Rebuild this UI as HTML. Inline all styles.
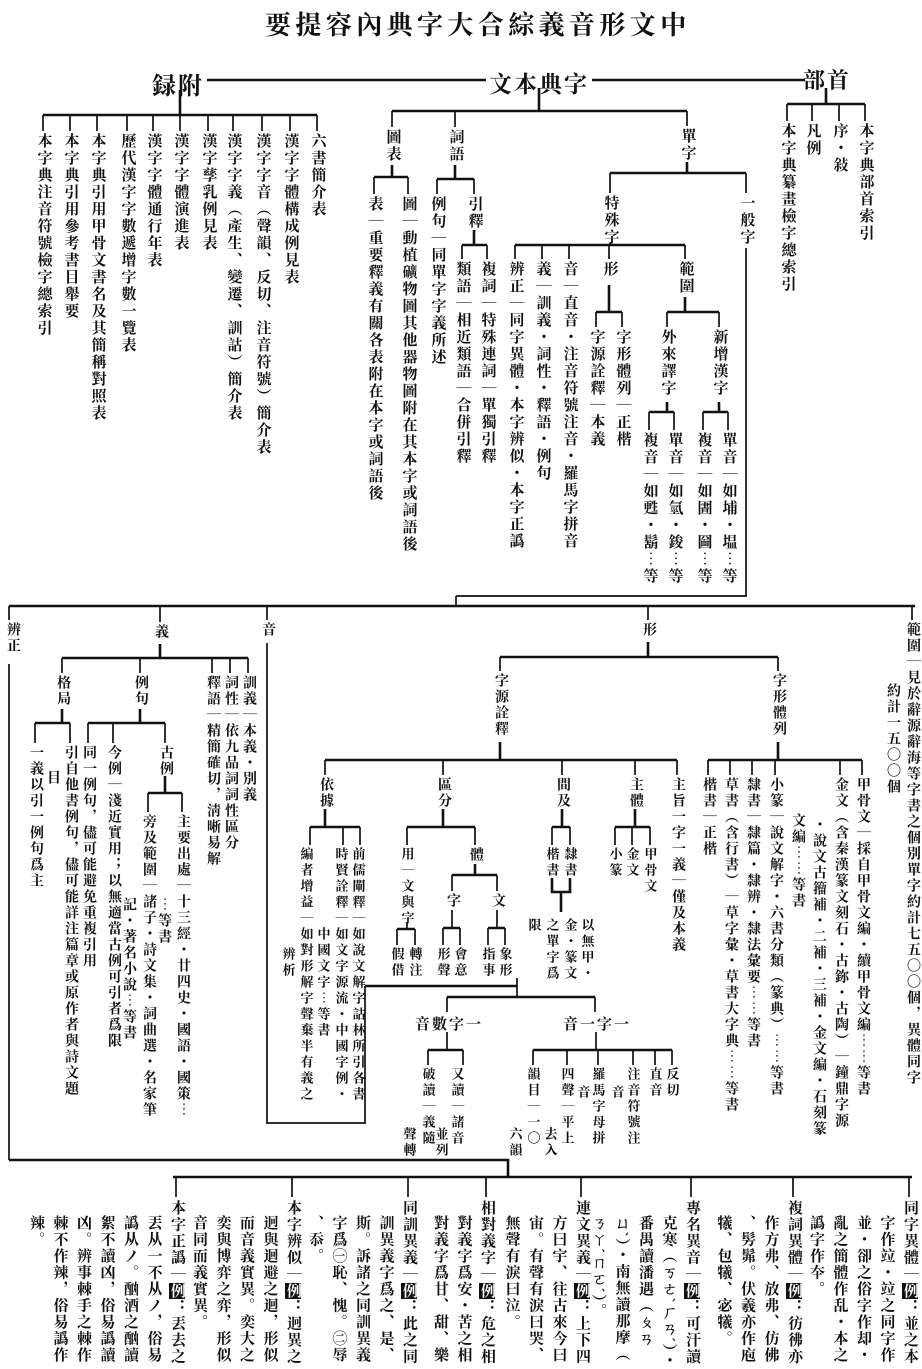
<!DOCTYPE html>
<html><head><meta charset="utf-8">
<style>
html,body{margin:0;padding:0;background:#fff;}
body{width:922px;height:1364px;position:relative;overflow:hidden;color:#111;font-family:"Liberation Serif","Noto Serif CJK SC",serif;}
.v{position:absolute;writing-mode:vertical-rl;white-space:nowrap;transform:translateX(-50%);font-weight:bold;}
.t{font-size:15px;letter-spacing:2px;line-height:17px;}
.m{font-size:14px;letter-spacing:2px;line-height:16px;}
.d{font-size:13px;letter-spacing:3px;line-height:15px;}
.h{position:absolute;white-space:nowrap;font-weight:bold;}
.b{position:absolute;top:1200px;writing-mode:vertical-rl;white-space:nowrap;font-weight:bold;font-size:15px;letter-spacing:1.5px;line-height:23.5px;padding-top:15px;text-indent:-15px;}
.k{background:#111;color:#fff;}
svg{position:absolute;left:0;top:0;}
</style></head><body>
<svg width="922" height="1364" viewBox="0 0 922 1364">
<g stroke="#111" fill="none" stroke-width="2.6">
<path d="M207 80H486 M592 80H805 M180 90V115 M43 115H317 M539 88V111 M392 111H687 M826 88V104 M787 104H865
M392 165V177 M374 177H408 M455 165V179 M437 179H474 M474 230V245 M462 245H487
M687 162V173 M610 173H746 M610 245V245 M515 245H685 M609 285V312 M596 312H622 M685 297V312 M667 312H719
M667 402V412 M649 412H674 M719 402V412 M703 412H728
M9 606H915 M160 644V658 M62 658H248 M62 709V723 M35 723H70 M140 709V723 M88 723H165 M165 776V793 M148 793H182
M648 642V657 M500 657H778 M500 742V760 M325 760H677 M778 742V760 M708 760H862
M325 809V827 M310 827H360 M443 809V827 M407 827H475 M475 864V875 M452 875H497 M562 809V827 M552 827H570 M635 809V827 M615 827H650
M397 929H415 M443 928H460 M488 928H505 M552 878V892H570V878 M561 892V912
M365 986H517 M447 997H595 M428 1050H463 M533 1050H672
M9 1160H508V1177 M173 1177H912"/>
</g>
<g stroke="#111" fill="none" stroke-width="1.7">
<path d="M43 115V131 M70 115V131 M97 115V131 M127 115V131 M153 115V131 M180 115V131 M208 115V131 M233 115V131 M262 115V131 M290 115V131 M317 115V131
M392 111V127 M455 111V127 M687 111V126 M374 177V194 M408 177V194 M437 179V194 M474 179V194 M462 245V259 M487 245V259
M610 173V193 M746 173V193 M610 243V245 M515 245V259 M542 245V259 M569 245V259 M609 245V259 M685 245V259
M596 312V327 M622 312V327 M667 312V327 M719 312V327 M649 412V430 M674 412V430 M703 412V430 M728 412V430
M787 104V121 M812 104V121 M839 104V121 M865 104V121
M746 248V596 M456 596H747 M456 596V606
M9 606V620 M9 664V1160 M160 606V622 M62 658V673 M140 658V673 M212 658V673 M230 658V673 M248 658V673
M35 723V743 M70 723V743 M88 723V743 M113 723V743 M165 723V743 M148 793V812 M182 793V812
M267 606V620 M267 643V1123H365V986 M517 986V978 M517 986V997 M447 997V1012 M595 997V1012 M447 1032V1050 M596 1032V1050
M428 1050V1065 M463 1050V1065 M533 1050V1065 M567 1050V1065 M598 1050V1065 M633 1050V1065 M655 1050V1065 M672 1050V1065
M648 606V620 M500 657V671 M778 657V671 M325 760V775 M443 760V775 M562 760V775 M635 760V775 M677 760V775
M708 760V775 M730 760V775 M752 760V775 M775 760V775 M840 760V775 M862 760V775
M310 827V845 M343 827V845 M360 827V845 M407 827V845 M475 827V845 M407 922V929 M397 929V945 M415 929V945
M452 875V891 M497 875V891 M452 910V928 M497 910V928 M443 928V945 M460 928V945 M488 928V945 M505 928V945
M552 827V845 M570 827V845 M615 827V845 M632 827V845 M650 827V845 M912 606V620
M176 1177V1197 M292 1177V1197 M408 1177V1197 M486 1177V1197 M581 1177V1197 M691 1177V1197 M793 1177V1197 M909 1177V1197"/>
</g>
</svg>

<div class="h" style="left:265px;top:5px;font-size:26px;letter-spacing:4.4px;">要提容內典字大合綜義音形文中</div>
<div class="h" style="left:152px;top:66px;font-size:24px;letter-spacing:2px;">録附</div>
<div class="h" style="left:489px;top:66px;font-size:23px;letter-spacing:2px;">文本典字</div>
<div class="h" style="left:803px;top:64px;font-size:22px;letter-spacing:2px;">部首</div>

<div class="v t" style="left:43px;top:133px">本字典注音符號檢字總索引</div>
<div class="v t" style="left:70px;top:133px">本字典引用參考書目舉要</div>
<div class="v t" style="left:97px;top:133px">本字典引用甲骨文書名及其簡稱對照表</div>
<div class="v t" style="left:127px;top:133px">歷代漢字字數遞增字數一覽表</div>
<div class="v t" style="left:153px;top:133px">漢字字體通行年表</div>
<div class="v t" style="left:180px;top:133px">漢字字體演進表</div>
<div class="v t" style="left:208px;top:133px">漢字孳乳例見表</div>
<div class="v t" style="left:233px;top:133px">漢字字義（產生、變遷、訓詁）簡介表</div>
<div class="v t" style="left:262px;top:133px">漢字字音（聲韻、反切、注音符號）簡介表</div>
<div class="v t" style="left:290px;top:133px">漢字字體構成例見表</div>
<div class="v t" style="left:317px;top:133px">六書簡介表</div>

<div class="v t" style="left:392px;top:129px">圖表</div>
<div class="v t" style="left:455px;top:129px">詞語</div>
<div class="v t" style="left:687px;top:128px">單字</div>
<div class="v t" style="left:374px;top:196px">表｜重要釋義有關各表附在本字或詞語後</div>
<div class="v t" style="left:408px;top:196px">圖｜動植礦物圖其他器物圖附在其本字或詞語後</div>
<div class="v t" style="left:437px;top:196px">例句｜同單字字義所述</div>
<div class="v t" style="left:474px;top:196px">引釋</div>
<div class="v t" style="left:462px;top:261px">類語｜相近類語｜合併引釋</div>
<div class="v t" style="left:487px;top:261px">複詞｜特殊連詞｜單獨引釋</div>
<div class="v t" style="left:610px;top:195px">特殊字</div>
<div class="v t" style="left:746px;top:195px">一般字</div>
<div class="v t" style="left:515px;top:261px">辨正｜同字異體・本字辨似・本字正譌</div>
<div class="v t" style="left:542px;top:261px">義｜訓義・詞性・釋語・例句</div>
<div class="v t" style="left:569px;top:261px">音｜直音・注音符號注音・羅馬字拼音</div>
<div class="v t" style="left:609px;top:261px">形</div>
<div class="v t" style="left:685px;top:261px">範圍</div>
<div class="v t" style="left:596px;top:329px">字源詮釋｜本義</div>
<div class="v t" style="left:622px;top:329px">字形體列｜正楷</div>
<div class="v t" style="left:667px;top:329px">外來譯字</div>
<div class="v t" style="left:719px;top:329px">新增漢字</div>
<div class="v t" style="left:649px;top:432px">複音｜如甦・鬍︙等</div>
<div class="v t" style="left:674px;top:432px">單音｜如氫・鋑︙等</div>
<div class="v t" style="left:703px;top:432px">複音｜如圕・圙︙等</div>
<div class="v t" style="left:728px;top:432px">單音｜如埔・塭︙等</div>
<div class="v t" style="left:787px;top:123px">本字典纂畫檢字總索引</div>
<div class="v t" style="left:812px;top:123px">凡例</div>
<div class="v t" style="left:839px;top:123px">序・敍</div>
<div class="v t" style="left:865px;top:123px">本字典部首索引</div>

<div class="v m" style="left:12px;top:622px">辨正</div>
<div class="v m" style="left:160px;top:624px">義</div>
<div class="v m" style="left:267px;top:622px">音</div>
<div class="v m" style="left:648px;top:622px">形</div>
<div class="v m" style="left:912px;top:622px">範圍｜見於辭源辭海等字書之個別單字約計七五〇〇個，異體同字</div>
<div class="v m" style="left:892px;top:683px">約計一五〇〇個</div>
<div class="v m" style="left:62px;top:675px">格局</div>
<div class="v m" style="left:140px;top:675px">例句</div>
<div class="v m" style="left:212px;top:675px">釋語｜精簡確切，淸晰易解</div>
<div class="v m" style="left:230px;top:675px">詞性｜依九品詞詞性區分</div>
<div class="v m" style="left:248px;top:675px">訓義｜本義・別義</div>
<div class="v m" style="left:35px;top:745px">一義以引一例句爲主</div>
<div class="v m" style="left:70px;top:745px">引自他書例句，儘可能詳注篇章或原作者與詩文題</div>
<div class="v m" style="left:52px;top:770px">目</div>
<div class="v m" style="left:88px;top:745px">同一例句，儘可能避免重複引用</div>
<div class="v m" style="left:113px;top:745px">今例｜淺近實用；以無適當古例可引者爲限</div>
<div class="v m" style="left:165px;top:745px">古例</div>
<div class="v m" style="left:148px;top:814px">旁及範圍｜諸子・詩文集・詞曲選・名家筆</div>
<div class="v m" style="left:128px;top:897px">記・著名小說︙等書</div>
<div class="v m" style="left:182px;top:814px">主要出處｜十三經・廿四史・國語・國策︙</div>
<div class="v m" style="left:163px;top:897px">︙等書</div>

<div class="v m" style="left:500px;top:673px">字源詮釋</div>
<div class="v m" style="left:778px;top:673px">字形體列</div>
<div class="v m" style="left:325px;top:777px">依據</div>
<div class="v m" style="left:443px;top:777px">區分</div>
<div class="v m" style="left:562px;top:777px">間及</div>
<div class="v m" style="left:635px;top:777px">主體</div>
<div class="v m" style="left:677px;top:777px">主旨一字一義｜僅及本義</div>
<div class="v d" style="left:358px;top:847px">前儒闡釋｜如說文解字詁林所引各書</div>
<div class="v d" style="left:341px;top:847px">時賢詮釋｜如文字源流・中國字例・</div>
<div class="v d" style="left:323px;top:927px">中國文字︙等書</div>
<div class="v d" style="left:306px;top:847px">編者增益｜如對形解字聲棄半有義之</div>
<div class="v d" style="left:288px;top:947px">辨析</div>
<div class="v d" style="left:407px;top:847px">用｜文與字</div>
<div class="v d" style="left:397px;top:947px">假借</div>
<div class="v d" style="left:415px;top:947px">轉注</div>
<div class="v m" style="left:475px;top:847px">體</div>
<div class="v m" style="left:452px;top:893px">字</div>
<div class="v m" style="left:497px;top:893px">文</div>
<div class="v d" style="left:443px;top:947px">形聲</div>
<div class="v d" style="left:460px;top:947px">會意</div>
<div class="v d" style="left:488px;top:947px">指事</div>
<div class="v d" style="left:505px;top:947px">象形</div>
<div class="v d" style="left:552px;top:847px">楷書</div>
<div class="v d" style="left:570px;top:847px">隸書</div>
<div class="v d" style="left:587px;top:918px">以無甲・</div>
<div class="v d" style="left:570px;top:918px">金・篆文</div>
<div class="v d" style="left:552px;top:918px">之單字爲</div>
<div class="v d" style="left:534px;top:918px">限</div>
<div class="v d" style="left:615px;top:847px">小篆</div>
<div class="v d" style="left:632px;top:847px">金文</div>
<div class="v d" style="left:650px;top:847px">甲骨文</div>
<div class="v m" style="left:708px;top:777px">楷書｜正楷</div>
<div class="v m" style="left:730px;top:777px">草書（含行書）｜草字彙・草書大字典︙︙等書</div>
<div class="v m" style="left:752px;top:777px">隸書｜隸篇・隸辨・隸法彙要︙︙等書</div>
<div class="v m" style="left:775px;top:777px">小篆｜說文解字・六書分類（篆典）︙︙等書</div>
<div class="v m" style="left:797px;top:813px">文編︙︙等書</div>
<div class="v m" style="left:818px;top:817px">・說文古籀補・二補・三補・金文編・石刻篆</div>
<div class="v m" style="left:840px;top:777px">金文（含秦漢篆文刻石・古鉨・古陶）｜鐘鼎字源</div>
<div class="v m" style="left:862px;top:777px">甲骨文｜採自甲骨文編・續甲骨文編︙︙等書</div>

<div class="h" style="left:415px;top:1013px;font-size:15px;letter-spacing:2px;">音數字一</div>
<div class="h" style="left:563px;top:1013px;font-size:15px;letter-spacing:2px;">音一字一</div>
<div class="v d" style="left:428px;top:1067px">破讀｜義隨</div>
<div class="v d" style="left:409px;top:1127px">聲轉</div>
<div class="v d" style="left:457px;top:1067px">又讀｜諸音</div>
<div class="v d" style="left:441px;top:1127px">並列</div>
<div class="v d" style="left:533px;top:1067px">韻目｜一〇</div>
<div class="v d" style="left:515px;top:1127px">六韻</div>
<div class="v d" style="left:567px;top:1067px">四聲｜平上</div>
<div class="v d" style="left:550px;top:1127px">去入</div>
<div class="v d" style="left:598px;top:1067px">羅馬字母拼</div>
<div class="v d" style="left:583px;top:1085px">音</div>
<div class="v d" style="left:633px;top:1067px">注音符號注</div>
<div class="v d" style="left:617px;top:1085px">音</div>
<div class="v d" style="left:655px;top:1067px">直音</div>
<div class="v d" style="left:672px;top:1067px">反切</div>

<div class="b" style="right:1px">同字異體｜<span class="k">例</span>：並之本<br>字作竝・竝之同字作<br>並・卻之俗字作却・<br>亂之簡體作乱・本之<br>譌字作夲。</div>
<div class="b" style="right:117px">複詞異體｜<span class="k">例</span>：彷彿亦<br>作方弗、放弗、仿佛<br>、髣髴。伏羲亦作庖<br>犧、包犧、宓犧。</div>
<div class="b" style="right:219px">專名異音｜<span class="k">例</span>：可汗讀<br>克寒（ㄎㄜˋㄏㄢˊ）・<br>番禺讀潘遇（ㄆㄢ<br>ㄩˋ）・南無讀那摩（<br>ㄋㄚˊㄇㄛˊ）。</div>
<div class="b" style="right:329px">連文異義｜<span class="k">例</span>：上下四<br>方曰宇、往古來今曰<br>宙。有聲有淚曰哭、<br>無聲有淚曰泣。</div>
<div class="b" style="right:424px">相對義字｜<span class="k">例</span>：危之相<br>對義字爲安・苦之相<br>對義字爲甘、甜、樂</div>
<div class="b" style="right:502px">同訓異義｜<span class="k">例</span>：此之同<br>訓異義字爲之、是、<br>斯。訴諸之同訓異義<br>字爲㊀恥、愧。㊁辱<br>、忝。</div>
<div class="b" style="right:618px">本字辨似｜<span class="k">例</span>：迥異之<br>迥與迴避之迴，形似<br>而音義實異。奕大之<br>奕與博弈之弈，形似<br>音同而義實異。</div>
<div class="b" style="right:734px">本字正譌｜<span class="k">例</span>：丟去之<br>丟从一不从ノ，俗易<br>譌从ノ。酗酒之酗讀<br>絮不讀凶，俗易譌讀<br>凶。辨事棘手之棘作<br>棘不作辣，俗易譌作<br>辣。</div>
</body></html>
